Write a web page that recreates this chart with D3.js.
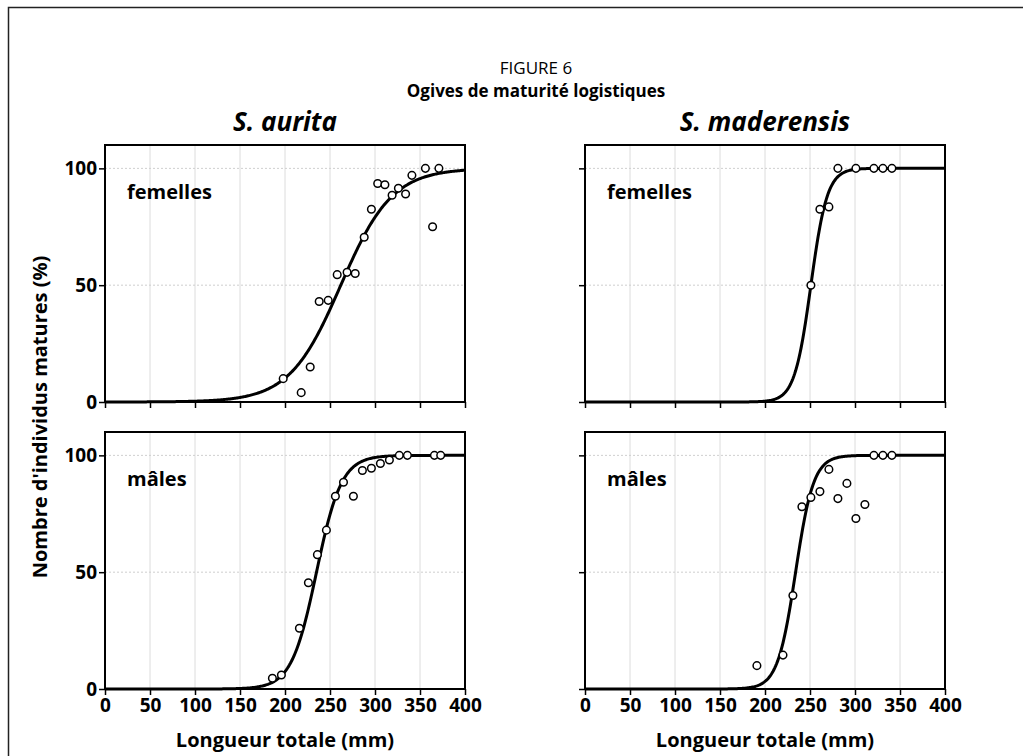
<!DOCTYPE html>
<html>
<head>
<meta charset="utf-8">
<script src="https://cdn.jsdelivr.net/npm/d3@7"></script>
<style>
  html, body { margin: 0; padding: 0; background: #fff; }
  svg { display: block; font-family: "Open Sans", "Noto Sans", sans-serif; }
</style>
</head>
<body>
<svg id="fig" width="1023" height="756"></svg>
<script>
// Length classes (mm) and share of mature fish (%) per species and sex
const auritaFemLen = [198, 218, 228, 238, 248, 258, 269, 278, 288, 296, 303, 311, 319, 326, 334, 341, 356, 364, 371];
const auritaFemPct = [10, 4, 15, 43, 43.5, 54.5, 55.5, 55, 70.5, 82.5, 93.5, 93, 88.5, 91.5, 89, 97, 100, 75, 100];

const maderFemLen = [251, 261, 271, 281, 301, 321, 331, 341];
const maderFemPct = [50, 82.5, 83.5, 100, 100, 100, 100, 100];

const auritaMalLen = [186, 196, 216, 226, 236, 246, 256, 265, 276, 286, 296, 306, 316, 327, 336, 366, 373];
const auritaMalPct = [4.6, 6, 26, 45.5, 57.5, 68, 82.5, 88.5, 82.5, 93.5, 94.5, 96.5, 98, 100, 100, 100, 100];

const maderMalLen = [191, 220, 231, 241, 251, 261, 271, 281, 291, 301, 311, 321, 331, 341];
const maderMalPct = [10, 14.5, 40, 78, 82, 84.5, 94, 81.5, 88, 73, 79, 100, 100, 100];

// Fitted logistic ogives: length at 50 % maturity and slope, per panel
const ogiveL50 = [262, 251, 235, 234];
const ogiveSlope = [0.035, 0.11, 0.072, 0.10];

const species = ["S. aurita", "S. maderensis"];
const sexes = ["femelles", "mâles"];
const xTicks = [0, 50, 100, 150, 200, 250, 300, 350, 400];
const yTicks = [0, 50, 100];

const panels = [
  { row: 0, col: 0, len: auritaFemLen, pct: auritaFemPct },
  { row: 0, col: 1, len: maderFemLen, pct: maderFemPct },
  { row: 1, col: 0, len: auritaMalLen, pct: auritaMalPct },
  { row: 1, col: 1, len: maderMalLen, pct: maderMalPct }
];

const svg = d3.select("#fig");

// outer frame
svg.append("rect")
  .attr("x", 8.5).attr("y", 7.5).attr("width", 1040).attr("height", 780)
  .attr("fill", "none").attr("stroke", "#222").attr("stroke-width", 1.5);

// titles
svg.append("text").attr("x", 536).attr("y", 74).attr("text-anchor", "middle")
  .attr("font-size", 17).text("FIGURE 6");
svg.append("text").attr("x", 536).attr("y", 97).attr("text-anchor", "middle")
  .attr("font-size", 17).attr("font-weight", "bold").text("Ogives de maturité logistiques");

const colX = [105, 585];
const rowY = [145, 432];
const pw = 360, ph = 257;

species.forEach((s, i) => {
  svg.append("text").attr("x", colX[i] + pw / 2).attr("y", 131)
    .attr("text-anchor", "middle").attr("font-size", 26)
    .attr("font-weight", "bold").attr("font-style", "italic").text(s);
});

panels.forEach((p, idx) => {
  const x0 = colX[p.col], y0 = rowY[p.row];
  const g = svg.append("g").attr("transform", `translate(${x0},${y0})`);
  const x = d3.scaleLinear().domain([0, 400]).range([0, pw]);
  const y = d3.scaleLinear().domain([0, 110]).range([ph, 0]);

  // vertical grid
  g.append("g").selectAll("line").data(xTicks.slice(1, -1)).join("line")
    .attr("x1", d => x(d)).attr("x2", d => x(d)).attr("y1", 0).attr("y2", ph)
    .attr("stroke", "#dcdcdc").attr("stroke-width", 1);
  // horizontal dotted grid
  g.append("g").selectAll("line").data(yTicks.slice(1)).join("line")
    .attr("x1", 0).attr("x2", pw).attr("y1", d => y(d)).attr("y2", d => y(d))
    .attr("stroke", "#cfcfcf").attr("stroke-width", 1).attr("stroke-dasharray", "2,2");

  // logistic ogive
  const L50 = ogiveL50[idx], k = ogiveSlope[idx];
  const curve = d3.range(0, 400.5, 1).map(l => [l, 100 / (1 + Math.exp(-k * (l - L50)))]);
  g.append("path").datum(curve)
    .attr("fill", "none").attr("stroke", "#000").attr("stroke-width", 3)
    .attr("d", d3.line().x(d => x(d[0])).y(d => y(d[1])));

  // observed proportions
  g.append("g").selectAll("circle").data(p.len.map((l, j) => [l, p.pct[j]])).join("circle")
    .attr("cx", d => x(d[0])).attr("cy", d => y(d[1])).attr("r", 3.8)
    .attr("fill", "#fff").attr("stroke", "#000").attr("stroke-width", 1.5);

  // frame
  g.append("rect").attr("x", 0).attr("y", 0).attr("width", pw).attr("height", ph)
    .attr("fill", "none").attr("stroke", "#000").attr("stroke-width", 2);

  // axes
  const xa = d3.axisBottom(x).tickValues(xTicks).tickSize(6).tickSizeOuter(0);
  if (p.row === 0) xa.tickFormat("");
  const gx = g.append("g").attr("transform", `translate(0,${ph})`).call(xa);
  const ya = d3.axisLeft(y).tickValues(yTicks).tickSize(6).tickSizeOuter(0);
  if (p.col === 1) ya.tickFormat("");
  const gy = g.append("g").call(ya);
  [gx, gy].forEach(a => {
    a.select(".domain").remove();
    a.selectAll(".tick line").attr("stroke", "#000").attr("stroke-width", 1.5);
    a.selectAll(".tick text").attr("fill", "#000").attr("font-size", 19)
      .attr("font-weight", "bold").attr("font-family", "'Open Sans', sans-serif");
  });
  gx.selectAll(".tick text").attr("y", 7).attr("dy", "0.85em");
  gy.selectAll(".tick text").attr("x", -8);

  // sex label
  g.append("text").attr("x", 22).attr("y", 54).attr("font-size", 20)
    .attr("font-weight", "bold").text(sexes[p.row]);

  if (p.row === 1) {
    g.append("text").attr("x", pw / 2).attr("y", ph + 58).attr("text-anchor", "middle")
      .attr("font-size", 20).attr("font-weight", "bold").text("Longueur totale (mm)");
  }
});

// y axis title
svg.append("text")
  .attr("transform", "translate(47,417) rotate(-90)")
  .attr("text-anchor", "middle").attr("font-size", 20).attr("font-weight", "bold")
  .text("Nombre d'individus matures (%)");
</script>
</body>
</html>
